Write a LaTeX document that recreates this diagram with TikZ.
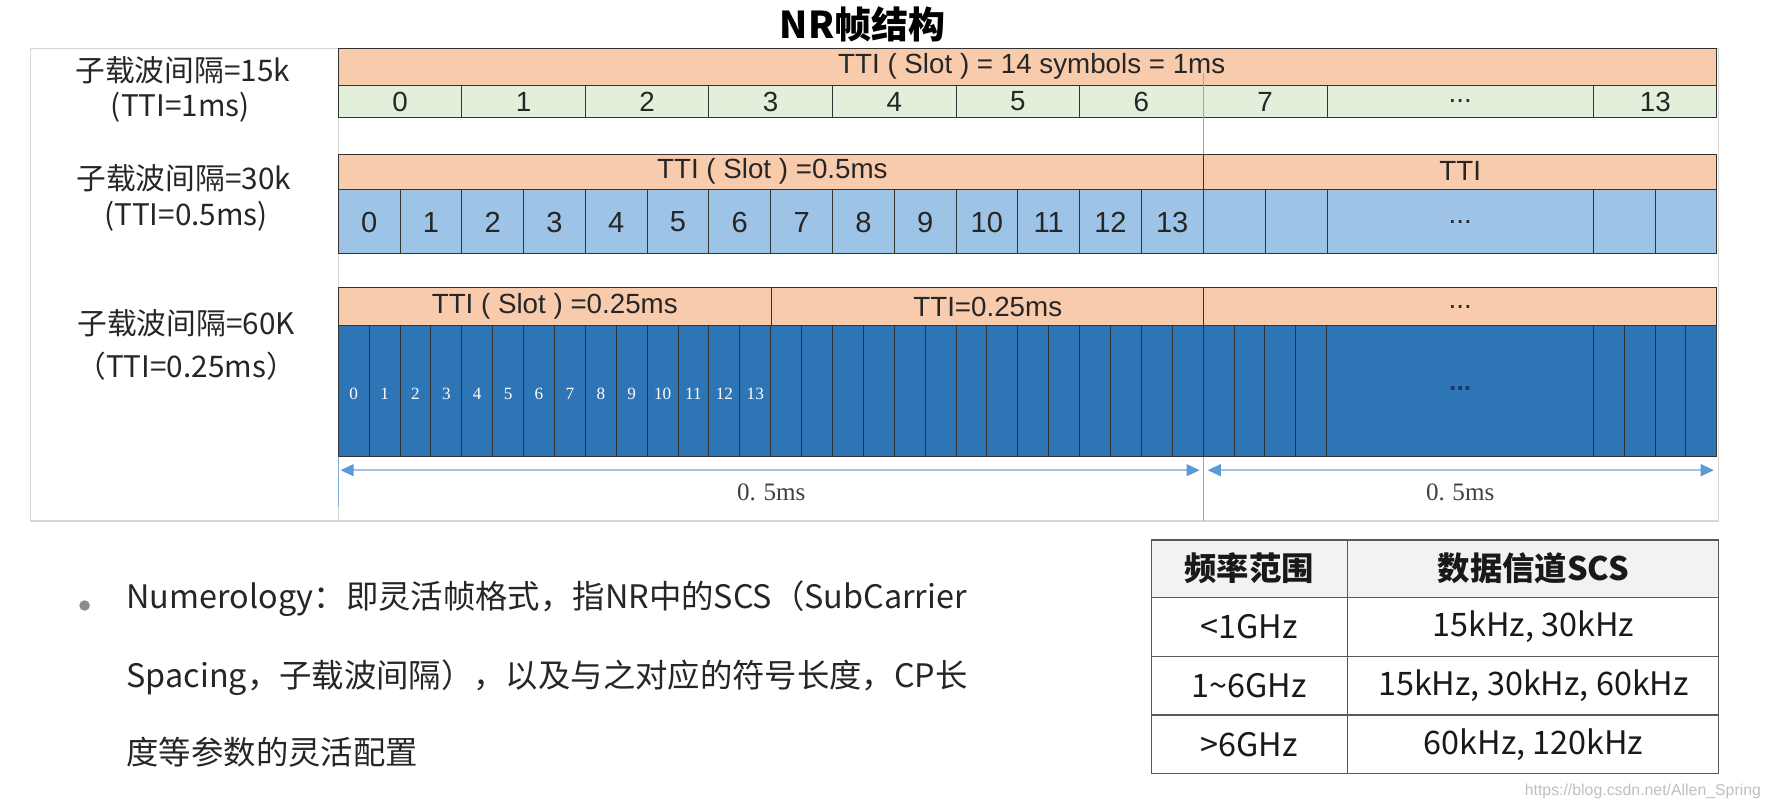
\documentclass[tikz,border=0pt]{standalone}
\usepackage{fontspec}
\setmainfont{Liberation Sans}
\newfontfamily\cjkfont{Noto Sans CJK SC}
\newfontfamily\simfont{Liberation Serif}
\usetikzlibrary{arrows.meta}

\definecolor{ttiorange}{HTML}{F8CBAD}
\definecolor{symgreen}{HTML}{E2EFDA}
\definecolor{symblue}{HTML}{9DC3E6}
\definecolor{symdark}{HTML}{2E75B6}
\definecolor{markblue}{HTML}{5B9BD5}
\definecolor{framegray}{HTML}{D6D6D6}
\definecolor{headgray}{HTML}{F2F2F2}
\definecolor{dotnavy}{HTML}{1F3864}

\begin{document}
\begin{tikzpicture}[x=0.03cm, y=-0.03cm, every node/.style={inner sep=0pt},
	>={Triangle[length=10pt, width=9pt, color=markblue]},
	cellline/.style={draw=black!80, line width=0.7pt},
	tabline/.style={draw=black!65, line width=1pt},
	sym/.style={font=\fontsize{21}{25}\selectfont, text=black!85},
	tinysym/.style={font=\simfont\fontsize{13}{15}\selectfont, text=white},
	half/.style={font=\simfont\fontsize{19}{22}\selectfont, text=black!75},
	scslab/.style={font=\cjkfont\fontsize{22.5}{26}\selectfont, text=black!85},
	textline/.style={font=\cjkfont\fontsize{24.5}{28}\selectfont, text=black!85, anchor=west},
	tabtext/.style={font=\cjkfont\fontsize{24.5}{28}\selectfont, text=black!90},
	span/.style={<->, draw=symblue, line width=1.5pt}]
	\useasboundingbox (0,0) rectangle (1568,716);
	% title and frame
	\node[font=\cjkfont\bfseries\fontsize{28}{32}\selectfont] (title) at (765,22) {NR帧结构};
	\draw[framegray, line width=1pt] (27,43) rectangle (1524,462);
	\draw[framegray, line width=1pt] (300,43) -- (300,462);

	% SCS 15k
	\filldraw[fill=ttiorange, cellline] (300,43) rectangle (1522,76);
	\filldraw[fill=symgreen, cellline] (300,76) rectangle (1522,104);
	\foreach \k in {1,...,7} {\draw[cellline] ({300+\k*109.571},76) -- ++(0,28);}
	\foreach \xx in {1177,1413} {\draw[cellline] (\xx,76) -- (\xx,104);}
	\node[sym] (slot15) at (915,59) {TTI ( Slot ) = 14 symbols = 1ms};
	\foreach \k in {0,...,6} {\node[sym] (g\k) at ({354.8+\k*109.571},90) {\k};}
	\node[sym] (g7) at (1122,90) {7};
	\node[sym] (gdots) at (1295,90) {...};
	\node[sym] (g13) at (1468,90) {13};

	% SCS 30k
	\filldraw[fill=ttiorange, cellline] (300,137) rectangle (1522,168);
	\draw[cellline] (1067,137) -- (1067,168);
	\filldraw[fill=symblue, cellline] (300,168) rectangle (1522,225);
	\foreach \k in {1,...,14} {\draw[cellline] ({300+\k*54.786},168) -- ++(0,57);}
	\foreach \xx in {1122,1177,1413,1468} {\draw[cellline] (\xx,168) -- (\xx,225);}
	\node[sym] (slot30) at (685,152) {TTI ( Slot ) =0.5ms};
	\node[sym] (tti30) at (1295,152) {TTI};
	\foreach \k in {0,...,13} {\node[sym, font=\fontsize{22}{26}\selectfont] (b\k) at ({327.4+\k*54.786},197) {\k};}
	\node[sym] (bdots) at (1295,197) {...};

	% SCS 60k
	\filldraw[fill=ttiorange, cellline] (300,255) rectangle (1522,289);
	\foreach \xx in {684,1067} {\draw[cellline] (\xx,255) -- (\xx,289);}
	\filldraw[fill=symdark, cellline] (300,289) rectangle (1522,405);
	\foreach \k in {1,...,32} {\draw[cellline] ({300+\k*27.393},289) -- ++(0,116);}
	\foreach \k in {0,...,3} {\draw[cellline] ({1413+\k*27.393},289) -- ++(0,116);}
	\node[sym] (slot60) at (492,272) {TTI ( Slot ) =0.25ms};
	\node[sym] (tti60) at (876,272) {TTI=0.25ms};
	\node[sym] (odots) at (1295,272) {...};
	\foreach \k in {0,...,13} {\node[tinysym] (d\k) at ({313.7+\k*27.393},349) {\k};}
	\node[font=\bfseries\fontsize{20}{24}\selectfont, text=dotnavy] (ddots) at (1295,345) {...};

	% 0.5ms spans
	\draw[markblue!80, line width=0.8pt] (1067,65) -- (1067,137);
	\draw[markblue!80, line width=0.8pt] (1067,405) -- (1067,462);
	\draw[markblue!80, line width=0.8pt] (300,405) -- (300,450);
	\coordinate (l0) at (302,417);
	\coordinate (l1) at (1064,417);
	\coordinate (r0) at (1071,417);
	\coordinate (r1) at (1520,417);
	\draw[span] (l0) -- (l1);
	\draw[span] (r0) -- (r1);
	\node[half] (half1) at (684,437) {0.\hspace{0.3em}5ms};
	\node[half] (half2) at (1295,437) {0.\hspace{0.3em}5ms};

	% row captions
	\node[scslab] (scs15) at (162,62) {子载波间隔=15k};
	\node[scslab] (tti1) at (160,95) {(TTI=1ms)};
	\node[scslab] (scs30) at (163,158) {子载波间隔=30k};
	\node[scslab] (tti2) at (165,192) {(TTI=0.5ms)};
	\node[scslab] (scs60) at (165,287) {子载波间隔=60K};
	\node[scslab] (tti3) at (165,325) {（TTI=0.25ms）};

	% numerology note
	\node[circle, fill=black!45, minimum size=8pt] (dot) at (75,537) {};
	\node[textline] (num1) at (112,531) {Numerology：即灵活帧格式，指NR中的SCS（SubCarrier};
	\node[textline] (num2) at (112,601) {Spacing，子载波间隔），以及与之对应的符号长度，CP长};
	\node[textline] (num3) at (112,667) {度等参数的灵活配置};

	% SCS table
	\fill[headgray] (1021,479) rectangle (1524,530);
	\draw[tabline] (1021,479) rectangle (1524,686);
	\foreach \yy in {530,582,634} {\draw[tabline] (1021,\yy) -- (1524,\yy);}
	\draw[tabline] (1195,479) -- (1195,686);
	\node[tabtext, font=\cjkfont\bfseries\fontsize{24.5}{28}\selectfont] (h1) at (1108,504) {频率范围};
	\node[tabtext, font=\cjkfont\bfseries\fontsize{24.5}{28}\selectfont] (h2) at (1360,504) {数据信道SCS};
	\node[tabtext] (f1) at (1108,556) {<1GHz};
	\node[tabtext] (s1) at (1360,556) {15kHz, 30kHz};
	\node[tabtext] (f2) at (1108,608) {1\textasciitilde 6GHz};
	\node[tabtext] (s2) at (1360,608) {15kHz, 30kHz, 60kHz};
	\node[tabtext] (f3) at (1108,660) {>6GHz};
	\node[tabtext] (s3) at (1360,660) {60kHz, 120kHz};
	\node[font=\fontsize{12}{14}\selectfont, text=black!25, anchor=east] (mark) at (1562,702) {https://blog.csdn.net/Allen\_Spring};
\end{tikzpicture}
\end{document}
